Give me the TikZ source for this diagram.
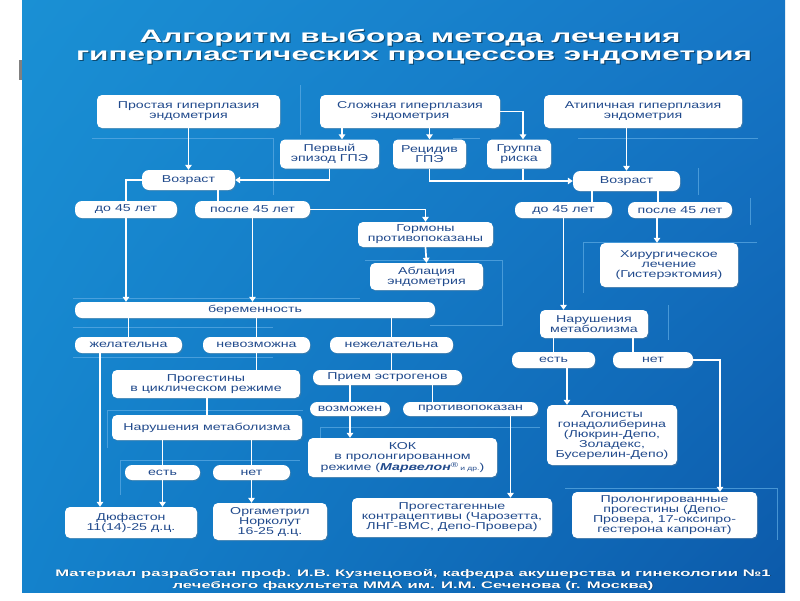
\documentclass[tikz,border=0pt]{standalone}
\usepackage{fontspec}
\setmainfont{Liberation Sans}[FakeStretch=1.42]
\newfontfamily\titlef{Liberation Sans}[FakeStretch=1.75]
\newfontfamily\footf{Liberation Sans}[FakeStretch=1.76]
\usetikzlibrary{arrows.meta,shadows,calc,shadings}
\definecolor{navy}{RGB}{33,74,140}
\definecolor{bgUL}{RGB}{26,144,212}
\definecolor{bgUR}{RGB}{22,118,198}
\definecolor{bgLL}{RGB}{20,130,204}
\definecolor{bgLR}{RGB}{12,90,170}
\definecolor{decoc}{RGB}{95,172,228}
\begin{document}
\begin{tikzpicture}[x=1pt,y=-1pt,
  every node/.style={font=\fontsize{10}{10}\selectfont},
  box/.style={fill=white, rounded corners=5pt, align=center, inner sep=0pt, text=navy,
    drop shadow={shadow xshift=1pt, shadow yshift=-1.2pt, opacity=0.3}},
  pill/.style={box, rounded corners=7pt},
  wire/.style={draw=white, line width=1.7pt},
  arr/.style={wire, -{Triangle[width=6.5pt,length=5pt]}},
  deco/.style={draw=decoc, line width=0.6pt, opacity=0.7},
  ttl/.style={anchor=base, font=\titlef\fontsize{18}{18}\selectfont\bfseries},
  foot/.style={anchor=base, font=\footf\fontsize{9.5}{10}\selectfont\bfseries}]
\useasboundingbox (0,0) rectangle (800,600);
\fill[white] (0,0) rectangle (800,600);
\shade[upper left=bgUL, upper right=bgUR, lower left=bgLL, lower right=bgLR] (22,0) rectangle (785,592);
\fill[gray] (19,60) rectangle (22,80);

% decorative faint lines
\draw[deco] (92,138) -- (273,138) -- (273,195);
\draw[deco] (300,85) -- (300,135);
\draw[deco] (453,138) -- (480,138);
\draw[deco] (578,138) -- (758,138);
\draw[deco] (698,168) -- (698,195);
\draw[deco] (750,198) -- (750,225);
\draw[deco] (583,293) -- (583,242) -- (757,242);
\draw[deco] (668,305) -- (668,340);
\draw[deco] (73,298) -- (360,298);
\draw[deco] (73,327) -- (273,327);
\draw[deco] (73,357) -- (273,357);
\draw[deco] (365,260) -- (502,260) -- (502,325) -- (430,325);
\draw[deco] (107,448) -- (107,410) -- (303,410);
\draw[deco] (120,495) -- (120,460) -- (300,460);
\draw[deco] (320,450) -- (320,427) -- (540,427);
\draw[deco] (565,488) -- (777,488) -- (777,540);

% title
\node[ttl, text=black, opacity=0.45] (t1s) at (411.2,43.2) {Алгоритм выбора метода лечения};
\node[ttl, text=white] (t1) at (410,42) {Алгоритм выбора метода лечения};
\node[ttl, text=black, opacity=0.45] (t2s) at (415.2,61.2) {гиперпластических процессов эндометрия};
\node[ttl, text=white] (t2) at (414,60) {гиперпластических процессов эндометрия};

% nodes
\node[box, minimum width=183pt, minimum height=33pt] (prost) at (188.5,111.5) {Простая гиперплазия\\эндометрия};
\node[box, minimum width=180pt, minimum height=33pt] (slozh) at (410,111.5) {Сложная гиперплазия\\эндометрия};
\node[box, minimum width=198pt, minimum height=33pt] (atip) at (643,111.5) {Атипичная гиперплазия\\эндометрия};
\node[box, minimum width=99pt, minimum height=29pt] (perv) at (329.5,154) {Первый\\эпизод ГПЭ};
\node[box, minimum width=73pt, minimum height=29pt] (recid) at (429.5,154) {Рецидив\\ГПЭ};
\node[box, minimum width=64pt, minimum height=29pt] (grupp) at (519,154) {Группа\\риска};
\node[pill, minimum width=93pt, minimum height=20pt] (vozL) at (188.5,180) {Возраст};
\node[pill, minimum width=107pt, minimum height=20pt] (vozR) at (626.5,181) {Возраст};
\node[pill, minimum width=102pt, minimum height=17pt] (do45L) at (126,209.5) {до 45 лет};
\node[pill, minimum width=115pt, minimum height=17pt] (posle45L) at (252.5,209.5) {после 45 лет};
\node[pill, minimum width=97pt, minimum height=16pt] (do45R) at (563.5,210) {до 45 лет};
\node[pill, minimum width=104pt, minimum height=16pt] (posle45R) at (680,210) {после 45 лет};
\node[box, minimum width=135pt, minimum height=25pt] (gorm) at (425.5,234.5) {Гормоны\\противопоказаны};
\node[box, minimum width=113pt, minimum height=27pt] (ablac) at (426.5,276.5) {Аблация\\эндометрия};
\node[box, minimum width=138pt, minimum height=44pt] (hirurg) at (669,265) {Хирургическое\\лечение\\(Гистерэктомия)};
\node[pill, minimum width=360pt, minimum height=16pt] (berem) at (255,310) {беременность};
\node[box, minimum width=108pt, minimum height=28pt] (narR) at (594,324) {Нарушения\\метаболизма};
\node[pill, minimum width=107pt, minimum height=16pt] (zhel) at (128.5,345) {желательна};
\node[pill, minimum width=107pt, minimum height=16pt] (nevoz) at (256.5,345) {невозможна};
\node[pill, minimum width=123pt, minimum height=16pt] (nezhel) at (391.5,345) {нежелательна};
\node[pill, minimum width=83pt, minimum height=16pt] (estR) at (553.5,360) {есть};
\node[pill, minimum width=80pt, minimum height=16pt] (netR) at (653,360) {нет};
\node[box, minimum width=188pt, minimum height=28pt] (progest) at (206,384) {Прогестины\\в циклическом режиме};
\node[pill, minimum width=149pt, minimum height=15pt] (priem) at (387.5,377.5) {Прием эстрогенов};
\node[pill, minimum width=80pt, minimum height=14pt] (vozm) at (350,409) {возможен};
\node[pill, minimum width=135pt, minimum height=14pt] (protiv) at (470.5,409) {противопоказан};
\node[box, minimum width=130pt, minimum height=60pt] (agon) at (612,435) {Агонисты\\гонадолиберина\\(Люкрин-Депо,\\Золадекс,\\Бусерелин-Депо)};
\node[box, minimum width=190pt, minimum height=25pt] (narL) at (207,427.5) {Нарушения метаболизма};
\node[box, minimum width=189pt, minimum height=39pt] (kok) at (402.5,457.5) {КОК\\в пролонгированном\\режиме (\textbf{\textit{Марвелон}}\textsuperscript{®}\,{\fontsize{6}{6}\selectfont и др.})};
\node[pill, minimum width=75pt, minimum height=15pt] (estL) at (162.5,472.5) {есть};
\node[pill, minimum width=77pt, minimum height=15pt] (netL) at (251.5,472.5) {нет};
\node[box, minimum width=132pt, minimum height=31pt] (dufa) at (131,522.5) {Дюфастон\\11(14)-25 д.ц.};
\node[box, minimum width=114pt, minimum height=37pt] (orga) at (270,521.5) {Оргаметрил\\Норколут\\16-25 д.ц.};
\node[box, minimum width=200pt, minimum height=39pt] (progestagen) at (452,517.5) {Прогестагенные\\контрацептивы (Чарозетта,\\ЛНГ-ВМС, Депо-Провера)};
\node[box, minimum width=185pt, minimum height=46pt] (prolong) at (664.5,515) {Пролонгированные\\прогестины (Депо-\\Провера, 17-оксипро-\\гестерона капронат)};

% connectors
\draw[arr] (prost.south) -- (vozL.north);
\coordinate (b1) at ([xshift=12.5pt]perv.north);
\draw[arr] (b1 |- slozh.south) -- (b1);
\draw[arr] (recid.north |- slozh.south) -- (recid.north);
\coordinate (b2) at ([xshift=4pt]grupp.north);
\draw[arr] (slozh.east) -| (b2);
\draw[arr] (perv.south) |- (vozL.east);
\draw[arr] (recid.south) |- (vozR.west);
\draw[wire] ([xshift=4pt]grupp.south) -- ([xshift=4pt]grupp.south |- vozR.west);
\draw[arr] (vozR.north |- atip.south) -- (vozR.north);
\draw[wire] (vozL.west) -| (do45L.north);
\coordinate (a1) at ([xshift=-17pt]vozL.south east);
\draw[wire] (a1) -- (a1 |- posle45L.north);
\draw[arr] (posle45L.east) -| (gorm.north);
\draw[arr] (gorm.south) -- (ablac.north);
\draw[arr] (do45L.south) -- (do45L.south |- berem.north);
\draw[arr] (posle45L.south) -- (posle45L.south |- berem.north);
\draw[wire] (zhel.north |- berem.south) -- (zhel.north);
\draw[wire] (nevoz.north |- berem.south) -- (nevoz.north);
\draw[wire] (nezhel.north |- berem.south) -- (nezhel.north);
\draw[wire] (nevoz.south) -- (nevoz.south |- progest.north);
\draw[wire] (nezhel.south) -- (nezhel.south |- priem.north);
\coordinate (a2) at ([xshift=-28.5pt]zhel.south);
\draw[arr] (a2) -- (a2 |- dufa.north);
\draw[wire] (narL.north |- progest.south) -- (narL.north);
\draw[wire] (estL.north |- narL.south) -- (estL.north);
\draw[arr] (estL.south) -- (estL.south |- dufa.north);
\draw[wire] (netL.north |- narL.south) -- (netL.north);
\draw[arr] (netL.south) -- (netL.south |- orga.north);
\draw[wire] (vozm.north |- priem.south) -- (vozm.north);
\coordinate (a3) at ([xshift=-38pt]protiv.north);
\draw[wire] (a3 |- priem.south) -- (a3);
\draw[arr] (vozm.south) -- (vozm.south |- kok.north);
\coordinate (a4) at ([xshift=40pt]protiv.south);
\draw[arr] (a4) -- (a4 |- progestagen.north);
\coordinate (a5) at ([xshift=-34.5pt]vozR.south);
\draw[wire] (a5) -- (a5 |- do45R.north);
\coordinate (a6) at ([xshift=31.5pt]vozR.south);
\draw[wire] (a6) -- (a6 |- posle45R.north);
\coordinate (a7) at ([xshift=-23pt]posle45R.south);
\draw[arr] (a7) -- (a7 |- hirurg.north);
\draw[arr] (do45R.south) -- (do45R.south |- narR.north);
\draw[wire] (estR.north |- narR.south) -- (estR.north);
\coordinate (a8) at ([xshift=-20pt]netR.north);
\draw[wire] (a8 |- narR.south) -- (a8);
\coordinate (a9) at ([xshift=13.5pt]estR.south);
\draw[arr] (a9) -- (a9 |- agon.north);
\coordinate (a10) at ([xshift=55.5pt]prolong.north);
\draw[arr] (netR.east) -| (a10);

% footer
\node[foot, text=black, opacity=0.4] (f1s) at (413.8,576.8) {Материал разработан проф. И.В. Кузнецовой, кафедра акушерства и гинекологии №1};
\node[foot, text=white] (f1) at (413,576) {Материал разработан проф. И.В. Кузнецовой, кафедра акушерства и гинекологии №1};
\node[foot, text=black, opacity=0.4] (f2s) at (413.8,588.8) {лечебного факультета ММА им. И.М. Сеченова (г. Москва)};
\node[foot, text=white] (f2) at (413,588) {лечебного факультета ММА им. И.М. Сеченова (г. Москва)};
\end{tikzpicture}
\end{document}
